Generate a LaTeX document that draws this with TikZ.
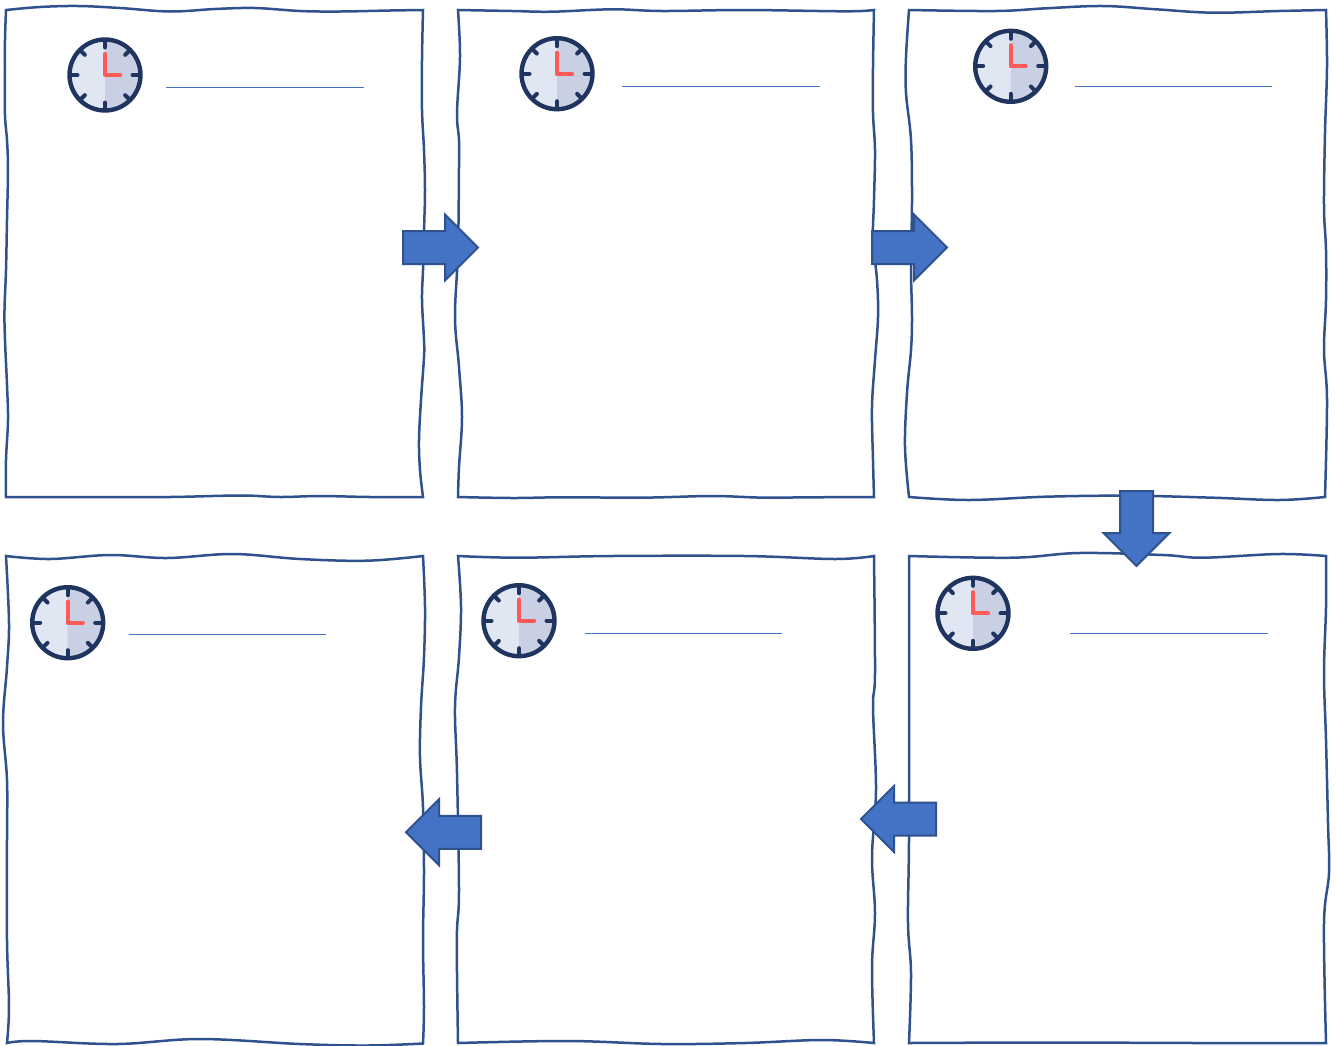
\documentclass[tikz,border=0pt]{standalone}
\usepackage{xcolor}
\usetikzlibrary{shapes.arrows}
\definecolor{bord}{RGB}{47,82,143}
\definecolor{blok}{RGB}{68,114,196}
\definecolor{ring}{RGB}{31,53,96}
\definecolor{vlak}{RGB}{224,231,243}
\definecolor{schaduw}{RGB}{201,208,227}
\definecolor{wijzer}{RGB}{255,90,90}
\tikzset{
  panelline/.style={draw=bord,line width=2.5pt,line join=miter},
  titleline/.style={draw=blok,line width=1pt},
  blockarrow/.style={single arrow,draw=bord,fill=blok,line width=2pt,minimum height=75pt,
    minimum width=65pt,inner sep=15.5pt,outer sep=0pt,single arrow head extend=16.5pt,
    single arrow head indent=0pt,anchor=tail},
  clock/.pic={
    \fill[vlak] (0,0) circle (36.5);
    \begin{scope}
      \clip (0,-38) rectangle (38,38);
      \fill[schaduw] (0,0) circle (36.5);
    \end{scope}
    \draw[ring,line width=4.4pt] (0,0) circle (35.5);
    \foreach \a in {0,90,180,270}
      \draw[ring,line width=4pt,line cap=round] (\a:35) -- (\a:27.5);
    \foreach \a in {45,135,225,315}
      \draw[ring,line width=4pt,line cap=round] (\a:35) -- (\a:28.5);
    \draw[wijzer,line width=4.2pt,line cap=round,line join=round] (0,-21) -- (0,0) -- (15,0);
  }
}
\newcommand{\sketchpanel}[4]{%
  \draw[panelline] plot[smooth,tension=0.6] coordinates {#1}
    -- plot[smooth,tension=0.6] coordinates {#2}
    -- plot[smooth,tension=0.6] coordinates {#3}
    -- plot[smooth,tension=0.6] coordinates {#4} -- cycle;
}
\begin{document}
\begin{tikzpicture}[x=1pt,y=-1pt]
  \useasboundingbox (0,0) rectangle (1336,1045);

  % top row of panels
  \sketchpanel
    {(6,10) (40,7) (78,6) (120,8) (170,11.5) (215,9) (255,8) (300,11) (340,11.5) (390,10.5) (423,10)}
    {(423,10) (422,60) (422,110) (424,150) (425,190) (424,231) (423,270) (422,300) (424,340) (424,357) (421,400) (419,440) (420,470) (423,497)}
    {(423,497) (370,497) (320,496) (280,497) (240,495.5) (170,497) (100,497) (6,497)}
    {(6,497) (6,460) (8,420) (7,385) (5,340) (4.5,310) (6,270) (7,220) (8,170) (7,140) (5,115) (5,70) (5,40) (6,10)}
  \sketchpanel
    {(458,10) (512,11) (552,11.7) (612,9.3) (662,11) (745,10) (845,11.3) (874,10)}
    {(874,10) (873,67) (873,113) (875,150) (874,200) (873,240) (877,280) (878,317) (875,360) (872,407) (873,460) (874,497)}
    {(874,497) (812,497.3) (762,497.6) (712,496) (645,497.6) (562,497.3) (512,498) (458,497)}
    {(458,497) (459,467) (462,417) (459,367) (455,317) (458,250) (459,167) (459,140) (457,113) (460,57) (458,10)}
  \sketchpanel
    {(909,10) (996,11) (1046,8.3) (1103,6) (1156,9.3) (1213,12.7) (1279,11) (1326,10)}
    {(1326,10) (1327,67) (1325,133) (1324,207) (1326,250) (1326,300) (1324,350) (1327,400) (1325,497)}
    {(1325,497) (1279,500) (1213,497.7) (1129,495.7) (1046,496.7) (969,500) (909,497)}
    {(909,497) (905,447) (907,393) (911,350) (912,317) (911,267) (912,200) (911,140) (906,93) (906,57) (909,10)}

  % bottom row of panels
  \sketchpanel
    {(6,556) (50,559) (110,555) (167,558) (233,554) (300,559) (367,560.7) (423,556)}
    {(423,556) (425,607) (424,657) (421,707) (420,757) (423,807) (424,873) (423,940) (424,1007) (423,1043.5)}
    {(423,1043.5) (367,1045.5) (300,1044) (200,1039) (117,1044) (33,1041) (7,1043)}
    {(7,1043) (9,1007) (7,940) (7,840) (7,780) (3,723) (7,667) (9,623) (6,556)}
  \sketchpanel
    {(458,556) (518,557.7) (612,556) (745,556) (835,559) (874,556)}
    {(874,556) (875,673) (873,707) (876,790) (872,857) (875,913) (872,967) (874,1043)}
    {(874,1043) (822,1040) (745,1043) (662,1044) (568,1041) (458,1043)}
    {(458,1043) (457,973) (457,930) (459,890) (457,773) (455,707) (459,657) (461,607) (458,556)}
  \sketchpanel
    {(909,556) (1013,557.7) (1079,553) (1163,555) (1203,557.7) (1279,554) (1326,556)}
    {(1326,556) (1326,607) (1324,673) (1326,740) (1328,823) (1329,873) (1324,923) (1326,1043)}
    {(1326,1043) (1200,1043) (1050,1042.5) (909,1043)}
    {(909,1043) (911,973) (908,923) (909,840) (909,707) (909,556)}

  % clocks
  \pic at (105,75) {clock};
  \pic at (557,73.7) {clock};
  \pic at (1010.7,66.3) {clock};
  \pic at (67.7,622.7) {clock};
  \pic at (519,620.7) {clock};
  \pic at (973,613.3) {clock};

  % title lines
  \draw[titleline] (166,87) -- (363.5,87);
  \draw[titleline] (622,86) -- (819.7,86);
  \draw[titleline] (1074.7,86) -- (1272,86);
  \draw[titleline] (128.5,634) -- (326,634);
  \draw[titleline] (584.7,633) -- (782,633);
  \draw[titleline] (1070,633) -- (1267.5,633);

  % block arrows between panels
  \node[blockarrow] (a12) at (403,247.5) {};
  \node[blockarrow] (a23) at (872,247.5) {};
  \node[blockarrow,shape border rotate=270] (a36) at (1136.5,491) {};
  \node[blockarrow,shape border rotate=180] (a65) at (936,819) {};
  \node[blockarrow,shape border rotate=180] (a54) at (481,832.3) {};
\end{tikzpicture}
\end{document}
